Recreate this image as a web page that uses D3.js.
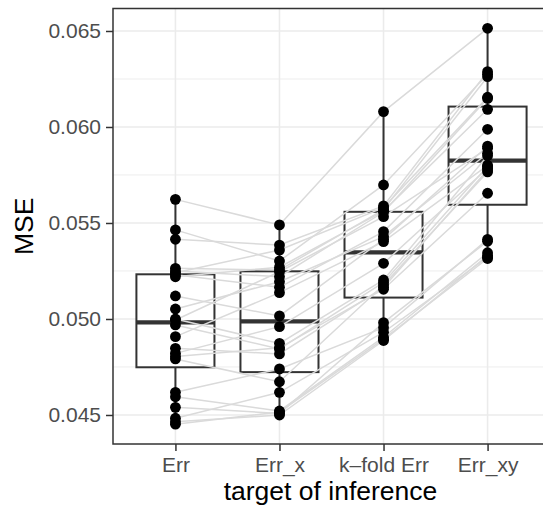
<!DOCTYPE html>
<html>
<head>
<meta charset="utf-8">
<script src="https://cdn.jsdelivr.net/npm/d3@7"></script>
<style>
  html, body { margin: 0; padding: 0; background: #fff; }
  svg { display: block; font-family: "Liberation Sans", Arial, sans-serif; }
</style>
</head>
<body>
<svg id="chart" width="543" height="513"></svg>
<script>
// ---- data (one entry per replicate, same order in every array) ----
const categories = ["Err", "Err_x", "k\u2013fold Err", "Err_xy"];
const errValues = [0.04452, 0.04465, 0.04483, 0.04540, 0.04595, 0.04618, 0.04792, 0.04805,
  0.04821, 0.04847, 0.04908, 0.04969, 0.04995, 0.05000, 0.05052, 0.05120,
  0.05220, 0.05230, 0.05241, 0.05250, 0.05264, 0.05415, 0.05464, 0.05623];
const errXValues = [0.04515, 0.04500, 0.04618, 0.04508, 0.04521, 0.04740, 0.04673, 0.04850,
  0.04960, 0.04818, 0.05137, 0.04844, 0.05246, 0.04873, 0.05194, 0.05016,
  0.05270, 0.05165, 0.05359, 0.05220, 0.05255, 0.05385, 0.05302, 0.05490];
const kfoldValues = [0.04895, 0.04888, 0.04931, 0.04981, 0.04905, 0.04955, 0.05177, 0.05155,
  0.05290, 0.05165, 0.05403, 0.05190, 0.05533, 0.05203, 0.05429, 0.05415,
  0.05562, 0.05455, 0.05580, 0.05557, 0.05570, 0.05589, 0.05698, 0.06080];
const errXYValues = [0.05315, 0.05330, 0.05321, 0.05405, 0.05345, 0.05415, 0.05766, 0.05655,
  0.05785, 0.05776, 0.05800, 0.05795, 0.05889, 0.05850, 0.05863, 0.05900,
  0.06092, 0.05988, 0.06155, 0.06149, 0.06262, 0.06288, 0.06275, 0.06514];
const yTicks = [0.045, 0.050, 0.055, 0.060, 0.065];
const yMinorTicks = [0.0475, 0.0525, 0.0575, 0.0625];
const xTitle = "target of inference";
const yTitle = "MSE";

const series = [errValues, errXValues, kfoldValues, errXYValues];

// ---- layout ----
const W = 543, H = 513;
const panel = { left: 113, top: 8.5, right: 550, bottom: 444 };

const svg = d3.select("#chart");

const x = d3.scalePoint().domain(categories)
  .range([panel.left, panel.right]).padding(0.6);

const all = series.flat();
const ext = d3.extent(all);
const pad = (ext[1] - ext[0]) * 0.05;
const y = d3.scaleLinear().domain([ext[0] - pad, ext[1] + pad])
  .range([panel.bottom, panel.top]);

const grey92 = "#ebebeb";
const grey20 = "#333333";

// background grid
const grid = svg.append("g");
grid.selectAll("line.minor").data(yMinorTicks).join("line")
  .attr("x1", panel.left).attr("x2", panel.right)
  .attr("y1", d => y(d)).attr("y2", d => y(d))
  .attr("stroke", grey92).attr("stroke-width", 0.9);
grid.selectAll("line.majy").data(yTicks).join("line")
  .attr("x1", panel.left).attr("x2", panel.right)
  .attr("y1", d => y(d)).attr("y2", d => y(d))
  .attr("stroke", grey92).attr("stroke-width", 1.6);
grid.selectAll("line.majx").data(categories).join("line")
  .attr("x1", d => x(d)).attr("x2", d => x(d))
  .attr("y1", panel.top).attr("y2", panel.bottom)
  .attr("stroke", grey92).attr("stroke-width", 1.6);

// boxplots
const boxW = x.step() * 0.75;
const boxes = svg.append("g");
categories.forEach((c, i) => {
  const s = series[i].slice().sort(d3.ascending);
  const q1 = d3.quantile(s, 0.25), med = d3.quantile(s, 0.5), q3 = d3.quantile(s, 0.75);
  const iqr = q3 - q1;
  const lo = d3.min(s.filter(v => v >= q1 - 1.5 * iqr));
  const hi = d3.max(s.filter(v => v <= q3 + 1.5 * iqr));
  const cx = x(c);
  const g = boxes.append("g");
  g.append("line").attr("x1", cx).attr("x2", cx).attr("y1", y(hi)).attr("y2", y(q3))
    .attr("stroke", grey20).attr("stroke-width", 2);
  g.append("line").attr("x1", cx).attr("x2", cx).attr("y1", y(q1)).attr("y2", y(lo))
    .attr("stroke", grey20).attr("stroke-width", 2);
  g.append("rect").attr("x", cx - boxW / 2).attr("y", y(q3))
    .attr("width", boxW).attr("height", y(q1) - y(q3))
    .attr("fill", "#fff").attr("stroke", grey20).attr("stroke-width", 2);
  g.append("line").attr("x1", cx - boxW / 2).attr("x2", cx + boxW / 2)
    .attr("y1", y(med)).attr("y2", y(med))
    .attr("stroke", grey20).attr("stroke-width", 4.2);
});

// paired lines
const reps = d3.range(errValues.length).map(r => series.map((s, i) => ({ c: categories[i], v: s[r] })));
const lineGen = d3.line().x(d => x(d.c)).y(d => y(d.v));
svg.append("g").selectAll("path").data(reps).join("path")
  .attr("d", lineGen).attr("fill", "none")
  .attr("stroke", "#dadada").attr("stroke-width", 1.5);

// points
const pts = [];
series.forEach((s, i) => s.forEach(v => pts.push({ c: categories[i], v })));
svg.append("g").selectAll("circle").data(pts).join("circle")
  .attr("cx", d => x(d.c)).attr("cy", d => y(d.v)).attr("r", 5.4)
  .attr("fill", "#000");

// panel border
svg.append("rect").attr("x", panel.left).attr("y", panel.top)
  .attr("width", panel.right - panel.left).attr("height", panel.bottom - panel.top)
  .attr("fill", "none").attr("stroke", grey20).attr("stroke-width", 1.5);

// axes
const yAxis = svg.append("g").attr("transform", `translate(${panel.left},0)`)
  .call(d3.axisLeft(y).tickValues(yTicks).tickFormat(d3.format(".3f")).tickSize(7).tickPadding(5));
const xAxis = svg.append("g").attr("transform", `translate(0,${panel.bottom})`)
  .call(d3.axisBottom(x).tickSize(7).tickPadding(6));
[yAxis, xAxis].forEach(a => {
  a.select(".domain").remove();
  a.selectAll(".tick line").attr("stroke", grey20).attr("stroke-width", 1.5);
  a.selectAll(".tick text").attr("fill", "#4d4d4d")
    .style("font-size", "21px").style("font-family", "'Liberation Sans', Arial, sans-serif");
});

// titles
svg.append("text").attr("x", (panel.left + 543 + (panel.right - 543)) / 2 - 1)
  .attr("y", 500).attr("text-anchor", "middle")
  .style("font-size", "26.5px").attr("fill", "#000").text(xTitle);
svg.append("text").attr("transform", `translate(33,${(panel.top + panel.bottom) / 2}) rotate(-90)`)
  .attr("text-anchor", "middle").style("font-size", "26.5px").attr("fill", "#000").text(yTitle);
</script>
</body>
</html>
